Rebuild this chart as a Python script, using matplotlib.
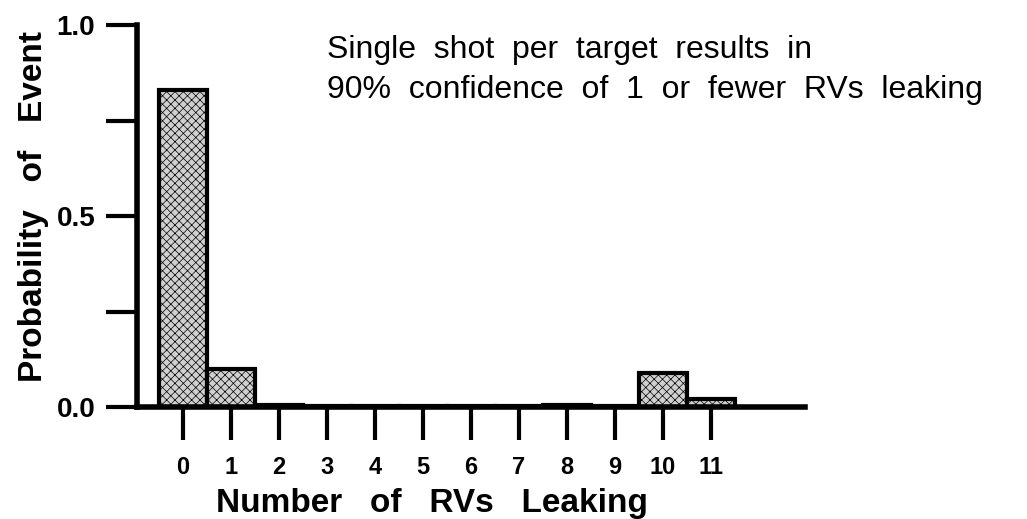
# Probability of RVs leaking - step histogram

import numpy as np
import matplotlib.pyplot as plt

# Data
n_leaking = [0, 1, 2, 3, 4, 5, 6, 7, 8, 9, 10, 11]
prob = [0.83, 0.10, 0.004, 0.003, 0.003, 0.003, 0.003, 0.003, 0.004, 0.003, 0.09, 0.02]
y_ticks = [0.0, 0.25, 0.5, 0.75, 1.0]
y_labels = ['0.0', '', '0.5', '', '1.0']
note = 'Single  shot  per  target  results  in\n90%  confidence  of  1  or  fewer  RVs  leaking'

plt.rcParams['font.family'] = ['Liberation Sans', 'DejaVu Sans']
plt.rcParams['hatch.linewidth'] = 0.5  # must be set before the bars are made

fig = plt.figure(figsize=(10.27, 5.19), dpi=100)
ax = fig.add_axes([0.1334, 0.2158, 0.650, 0.736])

# stippled grey fill
ax.bar(n_leaking, prob, width=1, color='#d0d0d0', edgecolor='black',
       linewidth=3, hatch='xxxx', zorder=2)

ax.set_xlim(-0.96, 12.96)
ax.set_ylim(0, 1.0)

ax.spines['top'].set_visible(False)
ax.spines['right'].set_visible(False)
ax.spines['left'].set_linewidth(4)
ax.spines['bottom'].set_linewidth(4)
ax.spines['left'].set_zorder(3)
ax.spines['bottom'].set_zorder(3)

ax.set_yticks(y_ticks)
ax.set_yticklabels(y_labels, fontweight='bold')
ax.set_xticks(n_leaking)
ax.set_xticklabels([str(n) for n in n_leaking], fontweight='bold')
ax.tick_params(axis='y', direction='out', length=22, width=3, labelsize=20, pad=8)
ax.tick_params(axis='x', direction='out', length=24, width=3, labelsize=17, pad=11)

ax.set_xlabel('Number   of   RVs   Leaking', fontsize=24, fontweight='bold')
ax.xaxis.set_label_coords(0.442, -0.212)
ax.set_ylabel('Probability   of   Event', fontsize=24, fontweight='bold')
ax.yaxis.set_label_coords(-0.132, 0.526)

ax.text(0.284, 0.975, note, transform=ax.transAxes, fontsize=23,
        va='top', ha='left', linespacing=1.45)

plt.savefig('out.png', dpi=100)
